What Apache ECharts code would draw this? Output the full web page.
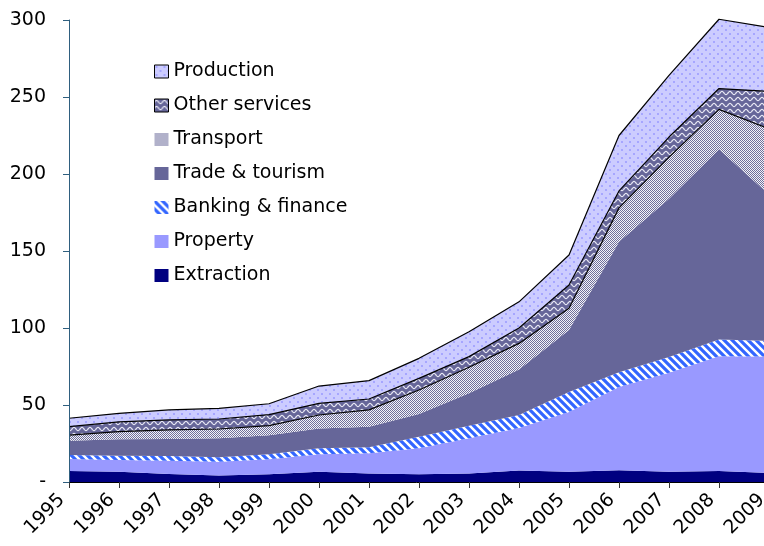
<!DOCTYPE html>
<html><head><meta charset="utf-8">
<script src="https://cdn.jsdelivr.net/npm/echarts@6/dist/echarts.min.js"></script>
<style>html,body{margin:0;padding:0;background:#fff}#c{width:764px;height:546px}</style>
</head><body><div id="c"></div>
<script>
const years = ['1995','1996','1997','1998','1999','2000','2001','2002','2003','2004','2005','2006','2007','2008','2009'];
const extraction = [7.1, 6.7, 5.2, 4.3, 5.0, 6.7, 5.6, 5.0, 5.5, 7.4, 6.7, 7.6, 6.7, 7.2, 5.9];
const property   = [7.8, 7.6, 8.6, 8.9, 9.7, 11.3, 13.0, 16.9, 22.9, 27.6, 38.8, 54.1, 64.3, 74.4, 75.6];
const banking    = [2.6, 2.8, 3.1, 2.8, 3.3, 3.9, 3.9, 7.5, 8.2, 8.5, 12.9, 9.5, 10.2, 10.9, 10.2];
const trade      = [9.3, 10.6, 11.0, 12.4, 12.3, 12.9, 13.4, 14.8, 21.0, 29.5, 40.3, 84.8, 102.8, 123.5, 95.0];
const transport  = [3.7, 5.0, 5.9, 6.0, 6.3, 8.7, 10.9, 15.5, 16.9, 17.0, 14.1, 22.0, 27.0, 26.0, 42.7];
const other      = [5.4, 6.3, 6.5, 6.5, 7.2, 7.6, 7.1, 7.6, 6.9, 10.0, 15.1, 11.0, 13.0, 13.5, 24.3];
const production = [5.5, 5.6, 6.5, 6.9, 7.0, 11.2, 11.9, 13.0, 16.2, 17.0, 19.5, 36.0, 40.0, 45.0, 41.5];
const yTicks = [0, 50, 100, 150, 200, 250, 300];

function tile(w, h, draw) {
  const c = document.createElement('canvas');
  c.width = w; c.height = h;
  const g = c.getContext('2d');
  draw(g, w, h);
  return { image: c, repeat: 'repeat' };
}
const patProduction = tile(8, 8, (g, w, h) => {
  g.fillStyle = '#ccccff'; g.fillRect(0, 0, w, h);
  g.fillStyle = '#a6a6ff'; g.fillRect(1, 1, 2, 2); g.fillRect(5, 5, 2, 2);
});
const patOther = tile(8, 6, (g, w, h) => {
  g.fillStyle = '#666699'; g.fillRect(0, 0, w, h);
  g.strokeStyle = '#e8e8f4'; g.lineWidth = 1.2;
  g.beginPath();
  for (let x = -1; x <= w + 1; x += 0.5) {
    const y = 3 - 1.6 * Math.sin(2 * Math.PI * x / 8);
    if (x === -1) g.moveTo(x, y); else g.lineTo(x, y);
  }
  g.stroke();
});
const patTransport = tile(2, 2, (g) => {
  g.fillStyle = '#f4f4f8'; g.fillRect(0, 0, 2, 2);
  g.fillStyle = '#6f6f9c'; g.fillRect(0, 0, 1, 1); g.fillRect(1, 1, 1, 1);
});
const patBanking = tile(8, 8, (g, w, h) => {
  g.fillStyle = '#ffffff'; g.fillRect(0, 0, w, h);
  g.strokeStyle = '#3366ff'; g.lineWidth = 3.2;
  g.beginPath();
  for (let k = -16; k <= 16; k += 8) { g.moveTo(k - 2, -2); g.lineTo(k + 10, 10); }
  g.stroke();
});
const C_TRADE = '#666699', C_PROP = '#9999ff', C_EXT = '#000080';

const names = ['Extraction', 'Property', 'Banking & finance', 'Trade & tourism', 'Transport', 'Other services', 'Production'];
const datas = [extraction, property, banking, trade, transport, other, production];
const fills = [C_EXT, C_PROP, patBanking, C_TRADE, patTransport, patOther, patProduction];
const solid = [C_EXT, C_PROP, '#3366ff', C_TRADE, '#b3b3cc', '#666699', '#ccccff'];
const lined = [false, false, false, false, true, true, true];
const zs = [2, 2, 2, 2, 5, 4, 3];

const series = names.map((n, i) => ({
  name: n, type: 'line', stack: 'total', data: datas[i],
  symbol: 'none', smooth: false, clip: false, z: zs[i],
  itemStyle: { color: solid[i] },
  lineStyle: lined[i] ? { color: '#000', width: 1.2 } : { width: 0, opacity: 0 },
  areaStyle: { color: fills[i], opacity: 1 },
  emphasis: { disabled: true }
}));

const legendData = names.map((n, i) => ({
  name: n,
  itemStyle: { color: fills[i], borderColor: '#000', borderWidth: (i >= 5) ? 1 : 0 }
})).reverse();

const FONT = 'DejaVu Sans';
const chart = echarts.init(document.getElementById('c'), null, { renderer: 'canvas' });
chart.setOption({
  animation: false,
  backgroundColor: '#fff',
  grid: { left: 69, right: -5, top: 20, bottom: 64, containLabel: false, outerBoundsMode: 'none' },
  legend: {
    orient: 'vertical', left: 149, top: 56, icon: 'rect', padding: 5,
    itemWidth: 14, itemHeight: 13, itemGap: 13,
    selectedMode: false,
    textStyle: { fontFamily: FONT, fontSize: 19, color: '#000', lineHeight: 21 },
    data: legendData
  },
  xAxis: {
    type: 'category', data: years, boundaryGap: false, z: 10,
    axisLine: { lineStyle: { color: '#000', width: 1 } },
    axisTick: { show: true, length: 6, interval: 0, lineStyle: { color: '#333' } },
    axisLabel: { interval: 0, rotate: 45, margin: 8, padding: [0, 10, 0, 0], fontFamily: FONT, fontSize: 19, color: '#000' },
    splitLine: { show: false }
  },
  yAxis: {
    type: 'value', min: yTicks[0], max: yTicks[yTicks.length - 1], interval: 50, z: 10,
    axisLine: { show: true, lineStyle: { color: '#2f5f7f', width: 1 } },
    axisTick: { show: true, length: 6, lineStyle: { color: '#2f5f7f' } },
    axisLabel: { margin: 23, fontFamily: FONT, fontSize: 19, color: '#000',
      formatter: v => v === 0 ? '-' : String(v) },
    splitLine: { show: false }
  },
  series: series
});
</script>
</body></html>
